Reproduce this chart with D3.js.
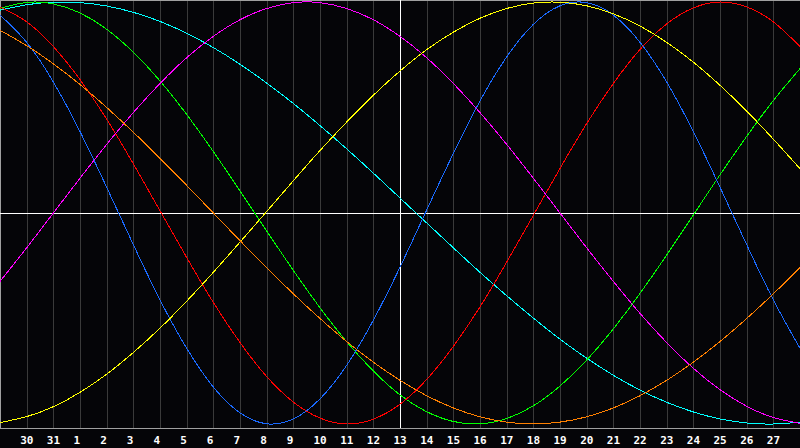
<!DOCTYPE html>
<html>
<head>
<meta charset="utf-8">
<script src="https://cdn.jsdelivr.net/npm/d3@7"></script>
<style>
  html, body { margin: 0; padding: 0; background: #050508; }
  svg { display: block; }
</style>
</head>
<body>
<svg id="chart" width="800" height="448"></svg>
<script>
// day labels under each grid line (index 0 and 30 sit on the edges, not shown)
const days = ["29","30","31","1","2","3","4","5","6","7","8","9","10","11","12","13",
              "14","15","16","17","18","19","20","21","22","23","24","25","26","27","28"];

// cycle values (-1..1) at each day line
const physical     = [0.938,0.809,0.621,0.386,0.122,-0.150,-0.412,-0.641,-0.825,-0.947,-0.999,-0.976,-0.881,-0.722,-0.508,-0.257,
                      0.014,0.282,0.531,0.740,0.894,0.982,0.997,0.938,0.809,0.621,0.386,0.122,-0.150,-0.412,-0.641];
const emotional    = [0.977,0.906,0.789,0.632,0.445,0.233,0.011,-0.211,-0.424,-0.614,-0.775,-0.896,-0.972,-1.000,-0.977,-0.906,
                      -0.789,-0.632,-0.445,-0.233,-0.011,0.211,0.424,0.614,0.775,0.896,0.972,1.000,0.977,0.906,0.789];
const intellectual = [0.970,0.998,0.991,0.948,0.871,0.762,0.626,0.467,0.291,0.105,-0.085,-0.272,-0.449,-0.610,-0.749,-0.862,
                      -0.942,-0.988,-0.999,-0.974,-0.914,-0.820,-0.697,-0.549,-0.381,-0.199,-0.009,0.181,0.363,0.533,0.684];
const intuitive    = [-0.324,-0.165,0.000,0.165,0.325,0.476,0.614,0.736,0.837,0.916,0.969,0.997,0.997,0.969,0.916,0.837,
                      0.736,0.614,0.476,0.325,0.165,0.000,-0.165,-0.324,-0.476,-0.614,-0.736,-0.837,-0.916,-0.969,-0.997];
const aesthetic    = [-0.993,-0.965,-0.918,-0.850,-0.764,-0.661,-0.546,-0.418,-0.281,-0.138,0.007,0.153,0.296,0.431,0.558,0.673,
                      0.774,0.857,0.923,0.969,0.995,0.999,0.982,0.944,0.886,0.809,0.715,0.605,0.483,0.350,0.210];
const awareness    = [0.866,0.793,0.707,0.609,0.500,0.383,0.259,0.131,0.000,-0.131,-0.259,-0.383,-0.500,-0.609,-0.707,-0.793,
                      -0.866,-0.924,-0.966,-0.991,-1.000,-0.991,-0.966,-0.924,-0.866,-0.793,-0.707,-0.609,-0.500,-0.383,-0.259];
const spiritual    = [0.961,0.987,0.999,0.997,0.981,0.951,0.908,0.852,0.784,0.705,0.616,0.519,0.414,0.304,0.189,0.071,
                      -0.047,-0.165,-0.281,-0.392,-0.498,-0.598,-0.688,-0.769,-0.839,-0.897,-0.943,-0.976,-0.995,-1.000,-0.991];

const seriesNames  = ["spiritual","intellectual","emotional","physical","intuitive","aesthetic","awareness"];
const seriesColors = ["#00ffff","#00ff00","#ff0000","#1a6aff","#ff00ff","#ffff00","#ff8000"];
const seriesData   = [spiritual, intellectual, emotional, physical, intuitive, aesthetic, awareness];

const width = 800, plotBottom = 428;
const svg = d3.select("#chart");

const x = d3.scaleLinear().domain([0, days.length - 1]).range([0, width]);
const y = d3.scaleLinear().domain([-1, 1]).range([424, 2]);

// background
svg.append("rect").attr("width", width).attr("height", 448).attr("fill", "#050508");

// vertical day grid
svg.append("g")
  .selectAll("line")
  .data(d3.range(1, days.length - 1).filter(i => i !== 15))
  .join("line")
    .attr("x1", d => Math.round(x(d)) + 0.5)
    .attr("x2", d => Math.round(x(d)) + 0.5)
    .attr("y1", 0)
    .attr("y2", plotBottom)
    .attr("stroke", "#3a3a3a")
    .attr("shape-rendering", "crispEdges");

// frame
svg.append("path")
  .attr("d", `M0.5,${plotBottom + 0.5}V0.5H${width - 0.5}`)
  .attr("fill", "none")
  .attr("stroke", "#a0a0a0")
  .attr("shape-rendering", "crispEdges");
svg.append("line")
  .attr("x1", 0).attr("x2", width)
  .attr("y1", plotBottom + 0.5).attr("y2", plotBottom + 0.5)
  .attr("stroke", "#a0a0a0")
  .attr("shape-rendering", "crispEdges");

// today cross
svg.append("line")
  .attr("x1", Math.round(x(15)) + 0.5).attr("x2", Math.round(x(15)) + 0.5)
  .attr("y1", 0).attr("y2", plotBottom)
  .attr("stroke", "#ffffff")
  .attr("shape-rendering", "crispEdges");
svg.append("line")
  .attr("x1", 0).attr("x2", width)
  .attr("y1", 213.5).attr("y2", 213.5)
  .attr("stroke", "#ffffff")
  .attr("shape-rendering", "crispEdges");

// curves
const line = d3.line()
  .x((d, i) => x(i))
  .y(d => y(d))
  .curve(d3.curveNatural);

svg.append("g")
  .selectAll("path")
  .data(seriesData)
  .join("path")
    .attr("class", (d, i) => "cycle " + seriesNames[i])
    .attr("d", line)
    .attr("fill", "none")
    .attr("stroke", (d, i) => seriesColors[i])
    .attr("stroke-width", 1)
    .attr("shape-rendering", "crispEdges");

// day labels
svg.append("g")
  .selectAll("text")
  .data(d3.range(1, days.length - 1))
  .join("text")
    .attr("x", d => x(d) - 6.5)
    .attr("y", 443.5)
    .attr("fill", "#ffffff")
    .style("font-family", "'DejaVu Sans Mono', monospace")
    .style("font-weight", "bold")
    .style("font-size", "11px")
    .text(d => days[d]);
</script>
</body>
</html>
